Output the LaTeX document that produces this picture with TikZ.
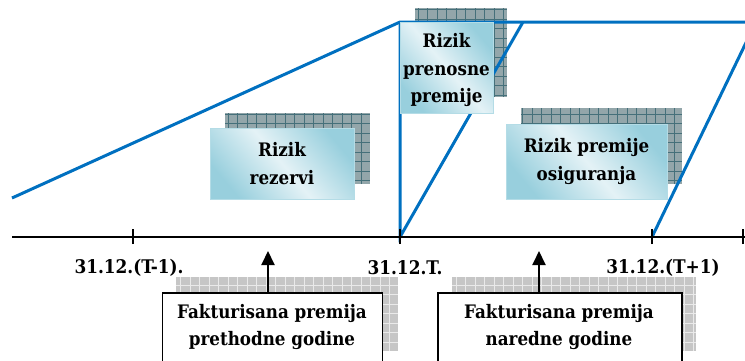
\documentclass[tikz,border=0pt]{standalone}
\usepackage{fontspec}
\setmainfont{DejaVu Serif Condensed}
\usetikzlibrary{arrows.meta}
\definecolor{lineblue}{HTML}{0070C0}
\definecolor{boxlight}{HTML}{E4F2F6}
\definecolor{boxblue}{HTML}{98CFDD}
\definecolor{boxedge}{HTML}{B4DCE6}
\definecolor{shdark}{HTML}{93A6AA}
\definecolor{shgrid}{HTML}{45707A}
\definecolor{shlight}{HTML}{C6C6C6}
\definecolor{shlgrid}{HTML}{EAEAEA}
\tikzset{
  blueline/.style={draw=lineblue, line width=3pt, line join=miter},
  axisline/.style={draw=black, line width=2.4pt},
  tickline/.style={draw=black, line width=1.4pt},
  txtfont/.style={font=\bfseries\fontsize{18.6}{27.5}\selectfont},
  riskbox/.style={draw=boxedge, line width=0.8pt, shading=axis, top color=boxblue, bottom color=boxblue, middle color=boxlight, shading angle=-50, txtfont, align=center, inner sep=0pt},
  billbox/.style={draw=black, fill=white, line width=1.6pt, inner sep=0pt},
  billtext/.style={txtfont, align=center, inner sep=0pt},
  datelabel/.style={font=\bfseries\fontsize{18.8}{23}\selectfont, inner sep=0pt},
  uparrow/.style={draw=black, line width=2pt, -{Triangle[length=14pt,width=13pt]}},
}
\newcommand{\gridshadow}[6]{%
  \begin{scope}
    \clip (#1,#2) rectangle (#3,#4);
    \fill[#5] (#1,#2) rectangle (#3,#4);
    \draw[#6, line width=0.9pt, step=9.5pt] (#1,#2) grid (#3,#4);
  \end{scope}}
\begin{document}
\begin{tikzpicture}[x=1pt,y=-1pt]
\useasboundingbox (0,0) rectangle (745,360);
\clip (0,0) rectangle (745,360);
% shadows of the risk boxes
\gridshadow{415}{8}{507}{97}{shdark}{shgrid}
\gridshadow{225}{113}{370}{184}{shdark}{shgrid}
\gridshadow{521}{108}{682}{184}{shdark}{shgrid}
% shadows of the billing boxes
\gridshadow{176}{277}{398}{351}{shlight}{shlgrid}
\gridshadow{452}{277}{696}{351}{shlight}{shlgrid}
% coordinates
\coordinate (L0) at (12,198);
\coordinate (top) at (400,22);
\coordinate (TR) at (748,22);
\coordinate (T0) at (400,237);
\coordinate (d1) at (523,22);
\coordinate (d2s) at (652,237);
\coordinate (d2e) at (756,22);
\coordinate (ax0) at (12,237);
\coordinate (ax1) at (745,237);
% blue risk lines
\draw[blueline] (L0) -- (top) -- (TR);
\draw[blueline] (top) -- (T0) -- (d1);
\draw[blueline] (d2s) -- (d2e);
% time axis
\draw[axisline] (ax0) -- (ax1);
\foreach \tx/\tn in {133/ta,400/tb,652/tc,743/td}{
  \coordinate (\tn) at (\tx,237);
  \draw[tickline] ([yshift=-7pt]\tn) -- ([yshift=8pt]\tn);
}
% risk boxes
\node[riskbox, minimum width=93pt, minimum height=91pt] (prenosne) at (446.5,67.5) {};
\node[txtfont, align=center, inner sep=0pt] (prenosnetxt) at (446.5,70) {Rizik\\prenosne\\premije};
\node[riskbox, minimum width=144pt, minimum height=71pt] (rezervi) at (282,163.5) {Rizik\\rezervi};
\node[riskbox, minimum width=161pt, minimum height=75pt] (osig) at (586.5,161.5) {Rizik premije\\osiguranja};
% date labels
\node[datelabel] (da) at (129,268) {31.12.(T-1).};
\node[datelabel] (db) at (405,268) {31.12.T.};
\node[datelabel] (dc) at (663,268) {31.12.(T+1)};
% billing boxes
\node[billbox, minimum width=220pt, minimum height=80pt, anchor=north west] (prev) at (161.5,292) {};
\node[billbox, minimum width=244pt, minimum height=80pt, anchor=north west] (next) at (437,292) {};
\node[billtext] (prevtxt) at (272,327) {Fakturisana premija\\prethodne godine};
\node[billtext] (nexttxt) at (559,327) {Fakturisana premija\\naredne godine};
% arrows
\coordinate (pa) at (268,251);
\coordinate (na) at (539,251);
\draw[uparrow] (prev.north -| pa) -- (pa);
\draw[uparrow] (next.north -| na) -- (na);
\end{tikzpicture}
\end{document}
